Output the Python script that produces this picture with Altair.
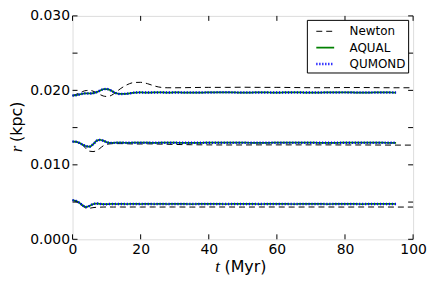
import altair as alt
import pandas as pd

# ---------------- data ----------------
T = [0, 1, 2, 3, 4, 5, 6, 7, 8, 9, 10, 11, 12, 13, 14, 16, 18, 20, 22, 24, 26, 28, 30,
     35, 40, 45, 50, 55, 60, 65, 70, 75, 80, 85, 90, 95]
T_NEWTON = T + [100]

# outer orbit
OUTER_NEWTON = [0.01930, 0.01945, 0.01965, 0.01985, 0.01998, 0.02000, 0.01990, 0.01970, 0.01945,
                0.01925, 0.01918, 0.01925, 0.01950, 0.01985, 0.02020, 0.02075, 0.02105, 0.02108,
                0.02090, 0.02060, 0.02040, 0.02035, 0.02035, 0.02038, 0.02040, 0.02040, 0.02042,
                0.02040, 0.02040, 0.02038, 0.02036, 0.02036, 0.02038, 0.02038, 0.02036, 0.02035,
                0.02035]
OUTER_AQUAL = [0.01930, 0.01935, 0.01945, 0.01955, 0.01960, 0.01958, 0.01962, 0.01975, 0.01995,
               0.02015, 0.02018, 0.02005, 0.01980, 0.01960, 0.01952, 0.01955, 0.01968, 0.01972,
               0.01970, 0.01972, 0.01973, 0.01970, 0.01972, 0.01970, 0.01972, 0.01974, 0.01970,
               0.01972, 0.01971, 0.01973, 0.01970, 0.01972, 0.01973, 0.01970, 0.01972, 0.01971]
OUTER_QUMOND = [0.01930, 0.01935, 0.01945, 0.01955, 0.01960, 0.01958, 0.01962, 0.01975, 0.01995,
                0.02015, 0.02018, 0.02005, 0.01980, 0.01960, 0.01952, 0.01955, 0.01968, 0.01972,
                0.01970, 0.01972, 0.01973, 0.01970, 0.01972, 0.01970, 0.01972, 0.01974, 0.01970,
                0.01972, 0.01971, 0.01973, 0.01970, 0.01972, 0.01973, 0.01970, 0.01972, 0.01971]

# middle orbit
MIDDLE_NEWTON = [0.01312, 0.01308, 0.01290, 0.01265, 0.01215, 0.01183, 0.01178, 0.01190, 0.01220,
                 0.01255, 0.01275, 0.01282, 0.01285, 0.01285, 0.01285, 0.01283, 0.01280, 0.01280,
                 0.01282, 0.01280, 0.01278, 0.01276, 0.01274, 0.01270, 0.01268, 0.01267, 0.01267,
                 0.01268, 0.01268, 0.01268, 0.01268, 0.01268, 0.01267, 0.01267, 0.01266, 0.01265,
                 0.01265]
MIDDLE_AQUAL = [0.01312, 0.01310, 0.01295, 0.01270, 0.01250, 0.01245, 0.01275, 0.01320, 0.01335,
                0.01325, 0.01305, 0.01295, 0.01295, 0.01298, 0.01298, 0.01296, 0.01297, 0.01298,
                0.01297, 0.01296, 0.01297, 0.01298, 0.01297, 0.01296, 0.01297, 0.01298, 0.01297,
                0.01296, 0.01297, 0.01298, 0.01297, 0.01296, 0.01297, 0.01298, 0.01297, 0.01296]
MIDDLE_QUMOND = [0.01312, 0.01310, 0.01295, 0.01270, 0.01250, 0.01245, 0.01275, 0.01320, 0.01335,
                 0.01325, 0.01305, 0.01295, 0.01295, 0.01298, 0.01298, 0.01296, 0.01297, 0.01298,
                 0.01297, 0.01296, 0.01297, 0.01298, 0.01297, 0.01296, 0.01297, 0.01298, 0.01297,
                 0.01296, 0.01297, 0.01298, 0.01297, 0.01296, 0.01297, 0.01298, 0.01297, 0.01296]

# inner orbit
INNER_NEWTON = [0.00525, 0.00510, 0.00480, 0.00445, 0.00420, 0.00418, 0.00425, 0.00430, 0.00432,
                0.00433, 0.00434, 0.00434, 0.00433, 0.00434, 0.00434, 0.00433, 0.00434, 0.00433,
                0.00434, 0.00434, 0.00433, 0.00434, 0.00434, 0.00433, 0.00434, 0.00434, 0.00433,
                0.00434, 0.00434, 0.00433, 0.00434, 0.00434, 0.00433, 0.00434, 0.00434, 0.00433,
                0.00433]
INNER_AQUAL = [0.00525, 0.00515, 0.00490, 0.00455, 0.00435, 0.00450, 0.00472, 0.00480, 0.00476,
               0.00472, 0.00472, 0.00474, 0.00475, 0.00474, 0.00475, 0.00474, 0.00475, 0.00474,
               0.00475, 0.00474, 0.00475, 0.00474, 0.00475, 0.00474, 0.00475, 0.00474, 0.00475,
               0.00474, 0.00475, 0.00474, 0.00475, 0.00474, 0.00475, 0.00474, 0.00475, 0.00474]
INNER_QUMOND = [0.00525, 0.00515, 0.00490, 0.00455, 0.00435, 0.00450, 0.00472, 0.00480, 0.00476,
                0.00472, 0.00472, 0.00474, 0.00475, 0.00474, 0.00475, 0.00474, 0.00475, 0.00474,
                0.00475, 0.00474, 0.00475, 0.00474, 0.00475, 0.00474, 0.00475, 0.00474, 0.00475,
                0.00474, 0.00475, 0.00474, 0.00475, 0.00474, 0.00475, 0.00474, 0.00475, 0.00474]

MODELS = ["Newton", "AQUAL", "QUMOND"]
COLORS = ["#000000", "#008000", "#0000ff"]
DASHES = [[6, 4], [1, 0], [1.2, 1.8]]
WIDTHS = [1.0, 2.5, 1.2]

X_TICKS = [0, 20, 40, 60, 80, 100]
Y_TICKS = [0.0, 0.005, 0.010, 0.015, 0.020, 0.025, 0.030]
X_TITLE = ["t", "(Myr)"]
Y_TITLE = ["r", "(kpc)"]

series = [
    ("Newton", "outer", T_NEWTON, OUTER_NEWTON),
    ("AQUAL", "outer", T, OUTER_AQUAL),
    ("QUMOND", "outer", T, OUTER_QUMOND),
    ("Newton", "middle", T_NEWTON, MIDDLE_NEWTON),
    ("AQUAL", "middle", T, MIDDLE_AQUAL),
    ("QUMOND", "middle", T, MIDDLE_QUMOND),
    ("Newton", "inner", T_NEWTON, INNER_NEWTON),
    ("AQUAL", "inner", T, INNER_AQUAL),
    ("QUMOND", "inner", T, INNER_QUMOND),
]
rows = []
for model, grp, tt, vv in series:
    for t, v in zip(tt, vv):
        rows.append({"t": t, "r": v, "model": model, "orbit": grp})
df = pd.DataFrame(rows)

W, H = 343, 225
FONT = "DejaVu Sans"

xscale = alt.Scale(domain=[0, 100], nice=False, zero=False)
yscale = alt.Scale(domain=[0, 0.03], nice=False, zero=False)

legend = alt.Legend(
    title=None, orient="none", legendX=236, legendY=4,
    symbolType="stroke", symbolSize=324, symbolOffset=6, labelOffset=14,
    labelFont=FONT, labelFontSize=12, labelColor="black",
    padding=2, rowPadding=0, strokeColor="black", fillColor="white",
    cornerRadius=0,
)

xaxis = alt.Axis(values=X_TICKS, format="d", ticks=False, tickSize=0, domain=False, grid=False,
                 labelFont=FONT, labelFontSize=14, labelColor="black", labelPadding=3,
                 labelFlush=False, labelOverlap=False, title=None)
yaxis = alt.Axis(values=Y_TICKS, format=".3f", ticks=False, tickSize=0, domain=False, grid=False,
                 labelFont=FONT, labelFontSize=14, labelColor="black", labelPadding=3,
                 labelFlush=False, labelOverlap=False, title=None)

base = alt.Chart(df)


def line_layer(model):
    return base.transform_filter(alt.datum.model == model).mark_line(
        interpolate="monotone"
    ).encode(
        x=alt.X("t:Q", scale=xscale, axis=xaxis),
        y=alt.Y("r:Q", scale=yscale, axis=yaxis),
        color=alt.Color("model:N", scale=alt.Scale(domain=MODELS, range=COLORS), legend=legend),
        strokeDash=alt.StrokeDash("model:N", scale=alt.Scale(domain=MODELS, range=DASHES), legend=legend),
        strokeWidth=alt.StrokeWidth("model:N", scale=alt.Scale(domain=MODELS, range=WIDTHS), legend=legend),
        detail="orbit:N",
    )


lines = [line_layer(m) for m in MODELS]

xt = pd.DataFrame({"t": X_TICKS})
yt = pd.DataFrame({"r": Y_TICKS})
tick_bottom = alt.Chart(xt).mark_rule(color="black", strokeWidth=1).encode(
    x=alt.X("t:Q", scale=xscale), y=alt.value(H), y2=alt.value(H - 5))
tick_top = alt.Chart(xt).mark_rule(color="black", strokeWidth=1).encode(
    x=alt.X("t:Q", scale=xscale), y=alt.value(0), y2=alt.value(5))
tick_left = alt.Chart(yt).mark_rule(color="black", strokeWidth=1).encode(
    y=alt.Y("r:Q", scale=yscale), x=alt.value(0), x2=alt.value(5))
tick_right = alt.Chart(yt).mark_rule(color="black", strokeWidth=1).encode(
    y=alt.Y("r:Q", scale=yscale), x=alt.value(W), x2=alt.value(W - 5))

xt1 = alt.Chart(pd.DataFrame({"s": [X_TITLE[0]]})).mark_text(
    font="Liberation Serif", fontStyle="italic", fontSize=17, align="center", baseline="middle",
    color="black").encode(x=alt.value(146), y=alt.value(253), text="s:N")
xt2 = alt.Chart(pd.DataFrame({"s": [X_TITLE[1]]})).mark_text(
    font=FONT, fontSize=16, align="left", baseline="middle",
    color="black").encode(x=alt.value(153), y=alt.value(253), text="s:N")
yt1 = alt.Chart(pd.DataFrame({"s": [Y_TITLE[0]]})).mark_text(
    font="Liberation Serif", fontStyle="italic", fontSize=17, align="center", baseline="middle",
    angle=270, color="black").encode(x=alt.value(-56), y=alt.value(134), text="s:N")
yt2 = alt.Chart(pd.DataFrame({"s": [Y_TITLE[1]]})).mark_text(
    font=FONT, fontSize=16, align="left", baseline="middle",
    angle=270, color="black").encode(x=alt.value(-56), y=alt.value(127), text="s:N")

chart = alt.layer(
    *lines, tick_bottom, tick_top, tick_left, tick_right, xt1, xt2, yt1, yt2
).properties(
    width=W, height=H,
    autosize=alt.AutoSizeParams(type="none"),
    padding={"left": 65, "top": 7, "right": 15, "bottom": 36},
).configure_view(stroke="black", strokeWidth=1).configure(background="white")

chart.save("out.html", embed_options={"renderer": "svg", "actions": False})
